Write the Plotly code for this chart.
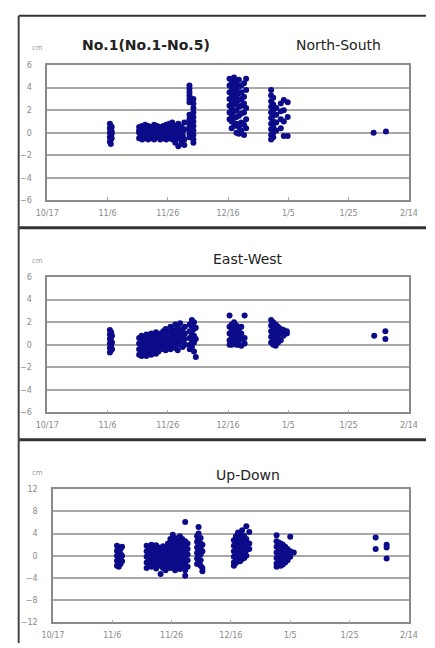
import plotly.graph_objects as go

W, H = 435, 648

# x: days after 10/17 ; tick labels every 20 days
tick_days = [0, 20, 40, 60, 80, 100, 120]
tick_labels = ["10/17", "11/6", "11/26", "12/16", "1/5", "1/25", "2/14"]

# ---------------- North-South (cm) ----------------
ns_days = [20.8, 21.1, 21.4,
           30.5, 31.0, 31.5, 32.5, 33.0, 33.5, 34.5, 35.0, 35.5, 36.5, 37.0, 37.5,
           38.5, 39.0, 39.5, 40.5, 41.0, 41.5, 42.5, 43.0, 43.5, 44.5, 45.0, 45.5,
           47.2, 48.5,
           60.5, 61.2, 62.0, 62.8, 63.6, 64.4, 65.3, 66.0,
           74.3, 75.0, 76.0, 77.5, 78.5, 79.8,
           108.3, 112.4]
ns_vals = [[0.8, 0.4, 0.0, -0.4, -0.8], [0.6, 0.2, -0.2, -0.6, -1.0, 0.3], [0.5, -0.1, -0.5, 0.1],
           [0.5, 0.0, -0.5, 0.2], [0.3, -0.4], [0.6, -0.3, 0.1, -0.6], [0.4, -0.1, -0.5, 0.7],
           [0.0, 0.5], [0.6, 0.2, -0.4, -0.6], [0.5, -0.2, 0.1, -0.5], [-0.1, 0.4],
           [0.7, 0.3, -0.3, -0.6], [0.4, 0.0, -0.4, 0.6], [0.3, -0.3], [0.5, -0.1, -0.6, 0.2],
           [0.6, 0.1, -0.3, -0.5], [0.0, 0.5], [0.3, -0.2, 0.7, -0.6], [0.5, 0.0, -0.5, 0.8],
           [0.2, -0.4], [0.4, -0.3, 0.9, -0.6], [0.6, 0.1, -0.4, -0.9], [0.4, -0.2],
           [0.8, 0.2, -0.5, -1.2], [0.5, -0.1, -0.7, -1.0], [0.1, -0.3], [0.9, 0.3, -0.6, -1.1],
           [4.2, 3.9, 3.6, 3.3, 3.0, 2.7, 1.6, 1.2, 0.8, 0.5, 0.2, -0.1, -0.4],
           [3.0, 2.6, 2.2, 1.8, 1.4, 1.0, 0.6, 0.2, -0.2, -0.6, -0.9],
           [4.8, 4.2, 3.6, 3.0, 2.4, 1.8, 1.2], [4.6, 4.0, 3.4, 2.8, 2.2, 1.6, 1.0, 0.4],
           [4.9, 4.3, 3.7, 3.1, 2.5, 1.9, 1.3, 0.6], [4.5, 3.9, 3.3, 2.7, 2.0, 1.4, 0.8, 0.0],
           [4.7, 4.1, 3.5, 2.9, 2.3, 1.5, 0.5, -0.1], [4.2, 3.6, 3.0, 2.4, 1.7, 0.9, 0.2],
           [4.4, 3.2, 2.6, 1.8, 0.7, -0.2], [4.8, 3.8, 2.2, 1.2, 0.4],
           [3.8, 3.3, 2.8, 2.3, 1.8, 1.3, 0.8, 0.3, -0.2, -0.6], [3.1, 2.5, 2.0, 1.5, 1.0, 0.5, 0.0, -0.4],
           [2.2, 1.6, 0.9, 0.2], [2.6, 1.9, 1.2, 0.4], [2.9, 2.0, 1.0, -0.3], [2.7, 1.4, -0.3],
           [0.0], [0.1]]

# ---------------- East-West (cm) ----------------
ew_days = [20.8, 21.2, 21.5,
           30.5, 31.3, 32.1, 32.9, 33.7, 34.5, 35.3, 36.1, 36.9,
           37.7, 38.5, 39.3, 40.1, 40.9, 41.7, 42.5, 43.3, 44.1, 44.9, 45.7,
           47.3, 48.0, 48.7, 49.3,
           60.5, 61.2, 62.0, 62.8, 63.6, 64.4, 65.5,
           74.3, 75.0, 75.8, 76.6, 77.5, 78.4, 79.5,
           108.5, 112.2]
ew_vals = [[1.3, 0.9, 0.5, 0.1, -0.3, -0.7], [1.1, 0.7, 0.3, -0.1, -0.5], [0.8, 0.2, -0.4],
           [0.6, 0.1, -0.4, -0.9], [0.8, 0.3, -0.2, -0.7, -1.0], [0.5, 0.0, -0.5, -0.9],
           [0.9, 0.4, -0.1, -0.6, -1.0], [0.7, 0.2, -0.3, -0.8], [1.0, 0.5, 0.0, -0.5, -0.9],
           [0.8, 0.3, -0.2, -0.7], [1.1, 0.6, 0.1, -0.4, -0.8], [0.7, 0.2, -0.3, -0.6],
           [1.0, 0.5, 0.0, -0.4], [1.2, 0.7, 0.2, -0.3], [1.4, 0.9, 0.4, -0.1, -0.5],
           [1.1, 0.6, 0.1, -0.3], [1.6, 1.1, 0.6, 0.1, -0.4], [1.3, 0.8, 0.3, -0.2],
           [1.8, 1.2, 0.7, 0.2, -0.3], [1.5, 1.0, 0.5, 0.0, -0.5], [1.9, 1.3, 0.8, 0.3],
           [1.4, 0.9, 0.4, -0.2], [1.6, 1.0, 0.5, 0.0],
           [1.8, 1.2, 0.6, 0.0, -0.4], [2.2, 1.6, 1.0, 0.4, -0.2], [2.0, 1.4, 0.8, 0.2, -0.6],
           [1.5, 0.5, -1.1],
           [2.6, 1.6, 1.0, 0.4, 0.0], [1.8, 1.3, 0.8, 0.3, 0.0], [2.0, 1.5, 1.0, 0.5, 0.1],
           [1.7, 1.2, 0.7, 0.2, 0.0], [1.4, 0.9, 0.4, 0.0], [1.6, 1.0, 0.5, -0.1], [2.6, 0.6, 0.1],
           [2.2, 1.7, 1.2, 0.7, 0.2], [2.0, 1.5, 1.0, 0.5, 0.0], [1.8, 1.3, 0.8, 0.3, -0.1],
           [1.6, 1.1, 0.6, 0.2], [1.4, 1.0, 0.4], [1.3, 0.8], [1.0, 1.2],
           [0.8], [0.5, 1.2]]

# ---------------- Up-Down (cm) ----------------
ud_days = [21.6, 22.2, 22.8, 23.3,
           31.6, 32.4, 33.2, 34.0, 34.8, 35.6, 36.3, 37.1,
           38.0, 38.8, 39.6, 40.4, 41.2, 42.0, 42.8, 43.6, 44.6, 45.4,
           48.6, 49.1, 49.8, 50.4,
           61.0, 61.7, 62.4, 63.1, 63.8, 64.5, 65.2, 66.2,
           75.4, 76.1, 76.8, 77.5, 78.3, 79.1, 80.0, 81.2,
           108.8, 112.5]
ud_vals = [[1.8, 0.9, 0.0, -0.9, -1.8], [1.5, 0.6, -0.3, -1.2, -2.0], [1.2, 0.3, -0.6, -1.5], [1.6, 0.0, -1.0],
           [1.8, 0.8, -0.2, -1.2, -2.2], [1.4, 0.4, -0.6, -1.6], [2.0, 1.0, 0.0, -1.0, -2.0],
           [1.6, 0.6, -0.4, -1.4], [1.9, 0.9, -0.1, -1.1, -2.3], [1.5, 0.5, -0.5, -1.5],
           [1.2, 0.2, -0.8, -1.8, -3.3], [1.7, 0.7, -0.3, -1.3, -2.2],
           [1.4, 0.4, -0.6, -1.6, -2.6], [2.2, 1.2, 0.2, -0.8, -1.8], [3.0, 2.0, 1.0, 0.0, -1.0, -2.2],
           [3.8, 2.6, 1.5, 0.5, -0.5, -1.5], [3.2, 2.2, 1.2, 0.2, -0.8, -1.8, -2.6],
           [2.8, 1.8, 0.8, -0.2, -1.2], [3.5, 2.4, 1.4, 0.4, -0.6, -1.6, -2.4],
           [3.0, 2.0, 1.0, 0.0, -1.0, -2.0], [6.1, 2.6, 1.6, 0.6, -0.4, -1.4, -2.6, -3.6],
           [2.2, 1.2, 0.2, -0.8, -2.0],
           [3.5, 2.5, 1.5, 0.5, -0.5, -1.5], [5.2, 4.0, 3.0, 2.0, 1.0, 0.0, -1.0],
           [3.2, 2.2, 1.2, 0.2, -0.8, -1.8], [2.0, 0.8, -2.2, -2.8],
           [2.8, 1.8, 0.8, -0.2, -1.2, -1.8], [3.5, 2.5, 1.5, 0.5, -0.5, -1.3],
           [4.2, 3.2, 2.2, 1.2, 0.2, -0.8], [3.8, 2.8, 1.8, 0.8, -0.2, -1.0],
           [4.6, 3.4, 2.4, 1.4, 0.4, -0.6], [3.6, 2.6, 1.6, 0.6, -0.4],
           [5.3, 3.0, 2.0, 1.0, 0.0], [4.3, 2.2, 1.2],
           [3.7, 2.6, 1.6, 0.6, -0.4, -1.4, -2.0], [2.4, 1.4, 0.4, -0.6, -1.6],
           [2.2, 1.2, 0.2, -0.8, -1.8], [2.0, 1.0, 0.0, -1.0, -1.6], [1.6, 0.6, -0.4, -1.2],
           [1.2, 0.2, -0.8], [3.4, 0.8, -0.2], [0.6],
           [3.3, 1.2], [2.0, 1.5, -0.5]]

titles = ["North-South", "East-West", "Up-Down"]
main_title = "No.1(No.1-No.5)"
unit = "cm"
y_ranges = [(-6, 6, 2), (-6, 6, 2), (-12, 12, 4)]


def flat(days, vals):
    xs, ys = [], []
    for d, vs in zip(days, vals):
        for v in vs:
            xs.append(d)
            ys.append(v)
    return xs, ys


series = [flat(ns_days, ns_vals), flat(ew_days, ew_vals), flat(ud_days, ud_vals)]

# panel boxes in pixels: (left, right, top, bottom)
boxes = [(37, 417, 62, 199), (37, 417, 277, 414), (43, 417, 492, 627)]

fig = go.Figure()
layout = dict(width=W, height=H, margin=dict(l=0, r=0, t=0, b=0),
              paper_bgcolor="white", plot_bgcolor="white", showlegend=False)

for i, ((xs, ys), (l, r, t, b), (ymin, ymax, dy)) in enumerate(zip(series, boxes, y_ranges)):
    n = "" if i == 0 else str(i + 1)
    fig.add_trace(go.Scatter(x=xs, y=ys, mode="markers", xaxis="x" + n, yaxis="y" + n,
                             marker=dict(size=6, color="#0c0c8a", line=dict(width=0))))
    layout["xaxis" + n] = dict(domain=[l / W, r / W], anchor="y" + n, range=[0, 120],
                               tickvals=tick_days, ticktext=tick_labels, showgrid=False,
                               zeroline=False, showline=True, mirror=True, linecolor="#8a8a8a",
                               linewidth=1.5, ticks="inside", ticklen=3, tickcolor="#aaaaaa",
                               tickfont=dict(family="DejaVu Sans", size=8, color="#8a8a8a"),
                               ticklabelstandoff=4)
    layout["yaxis" + n] = dict(domain=[1 - b / H, 1 - t / H], anchor="x" + n, range=[ymin, ymax],
                               dtick=dy, tick0=0, showgrid=True, gridcolor="#a8a8a8", gridwidth=1.5,
                               zeroline=False, showline=True, mirror=True, linecolor="#8a8a8a",
                               linewidth=1.5, ticks="", ticklabelstandoff=12,
                               tickfont=dict(family="DejaVu Sans", size=8, color="#8a8a8a"))

annotations = []
title_pos = [(343, 42), (248, 259), (248, 478)]
for (tx, ty), txt in zip(title_pos, titles):
    annotations.append(dict(x=tx / W, y=1 - ty / H, xref="paper", yref="paper", text=txt,
                            showarrow=False, xanchor="center", yanchor="middle",
                            font=dict(family="DejaVu Sans", size=14, color="#222222")))
annotations.append(dict(x=141 / W, y=1 - 42 / H, xref="paper", yref="paper", text="<b>" + main_title + "</b>",
                        showarrow=False, xanchor="center", yanchor="middle",
                        font=dict(family="DejaVu Sans", size=14, color="#222222")))
for cy in (45, 261, 476):
    annotations.append(dict(x=27 / W, y=1 - cy / H, xref="paper", yref="paper", text=unit,
                            showarrow=False, xanchor="center", yanchor="middle",
                            font=dict(family="DejaVu Sans", size=7, color="#999999")))
layout["annotations"] = annotations

shapes = []
for yy, wdt in ((12, 2), (227, 3), (442, 3)):
    shapes.append(dict(type="line", xref="paper", yref="paper", x0=7 / W, x1=1, y0=1 - yy / H, y1=1 - yy / H,
                       line=dict(color="#333333", width=wdt)))
shapes.append(dict(type="line", xref="paper", yref="paper", x0=7 / W, x1=7 / W, y0=0, y1=1 - 12 / H,
                   line=dict(color="#444444", width=2)))
layout["shapes"] = shapes

fig.update_layout(**layout)
fig.write_html("out.html", config={"displayModeBar": False},
               post_script="document.body.style.margin='0';document.body.style.overflow='hidden';")
